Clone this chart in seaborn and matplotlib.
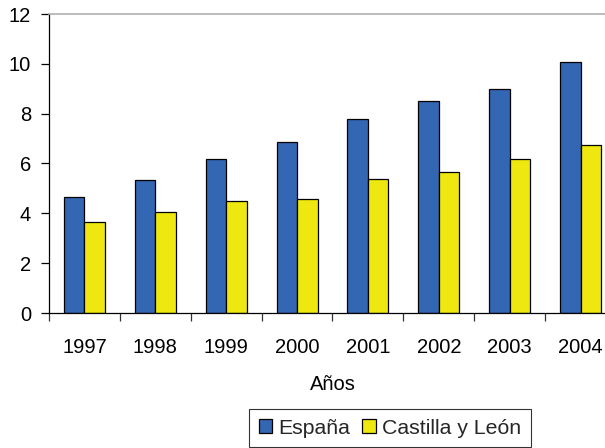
import numpy as np
import pandas as pd
import seaborn as sns
import matplotlib.pyplot as plt
from matplotlib.ticker import FixedLocator

YEARS = ["1997", "1998", "1999", "2000", "2001", "2002", "2003", "2004"]
ESPANA = [4.65, 5.33, 6.20, 6.88, 7.78, 8.51, 8.98, 10.07]
CASTILLA = [3.64, 4.06, 4.51, 4.58, 5.39, 5.65, 6.20, 6.73]
SERIES = ["España", "Castilla y León"]

C_BLUE = "#3366B3"
C_YELLOW = "#EEE810"
FS = 14.5


def main():
    df = pd.DataFrame({
        "Año": YEARS * 2,
        "Valor": ESPANA + CASTILLA,
        "Serie": [SERIES[0]] * len(YEARS) + [SERIES[1]] * len(YEARS),
    })

    sns.set_theme(style="white")
    plt.rcParams["font.family"] = ["Liberation Sans", "DejaVu Sans"]

    fig = plt.figure(figsize=(6.05, 4.48), dpi=100)
    ax = fig.add_axes([49 / 605, 1 - 313 / 448, 567 / 605, 299 / 448])

    sns.barplot(
        data=df,
        x="Año",
        y="Valor",
        hue="Serie",
        palette=[C_BLUE, C_YELLOW],
        saturation=1,
        width=0.58,
        gap=0,
        edgecolor="black",
        linewidth=0.9,
        ax=ax,
        legend=True,
    )

    ax.set_ylim(0, 12)
    ax.set_xlim(-0.5, len(YEARS) - 0.5)
    ax.set_yticks(np.arange(0, 13, 2))
    ax.tick_params(axis="y", which="major", length=6, width=0.9, color="black",
                   direction="out", left=True, labelsize=FS, pad=7, labelcolor="black")
    ax.tick_params(axis="x", which="major", length=0, labelsize=FS, pad=18, labelcolor="black")
    ax.xaxis.set_minor_locator(FixedLocator(np.arange(-0.5, len(YEARS), 1.0)))
    ax.tick_params(axis="x", which="minor", length=6, width=0.9, color="#333333",
                   direction="out", bottom=True)

    for side in ["left", "bottom"]:
        ax.spines[side].set_color("black")
        ax.spines[side].set_linewidth(0.9)
    ax.spines["top"].set_color("#B0B0B0")
    ax.spines["top"].set_linewidth(1.2)
    ax.spines["right"].set_visible(False)

    ax.set_ylabel("")
    ax.set_xlabel("Años", fontsize=FS, labelpad=13, color="black")

    handles, labels = ax.get_legend_handles_labels()
    ax.get_legend().remove()
    leg = fig.legend(
        handles,
        labels,
        loc="upper center",
        bbox_to_anchor=(390 / 605, 1 - 409 / 448),
        ncol=2,
        frameon=True,
        fancybox=False,
        fontsize=15.3,
        handlelength=0.63,
        handleheight=0.63,
        handletextpad=0.3,
        columnspacing=0.55,
        borderpad=0.45,
        borderaxespad=0,
    )
    leg.get_frame().set_edgecolor("black")
    leg.get_frame().set_linewidth(0.8)

    fig.savefig("out.png", dpi=100)
    plt.close(fig)


if __name__ == "__main__":
    main()
